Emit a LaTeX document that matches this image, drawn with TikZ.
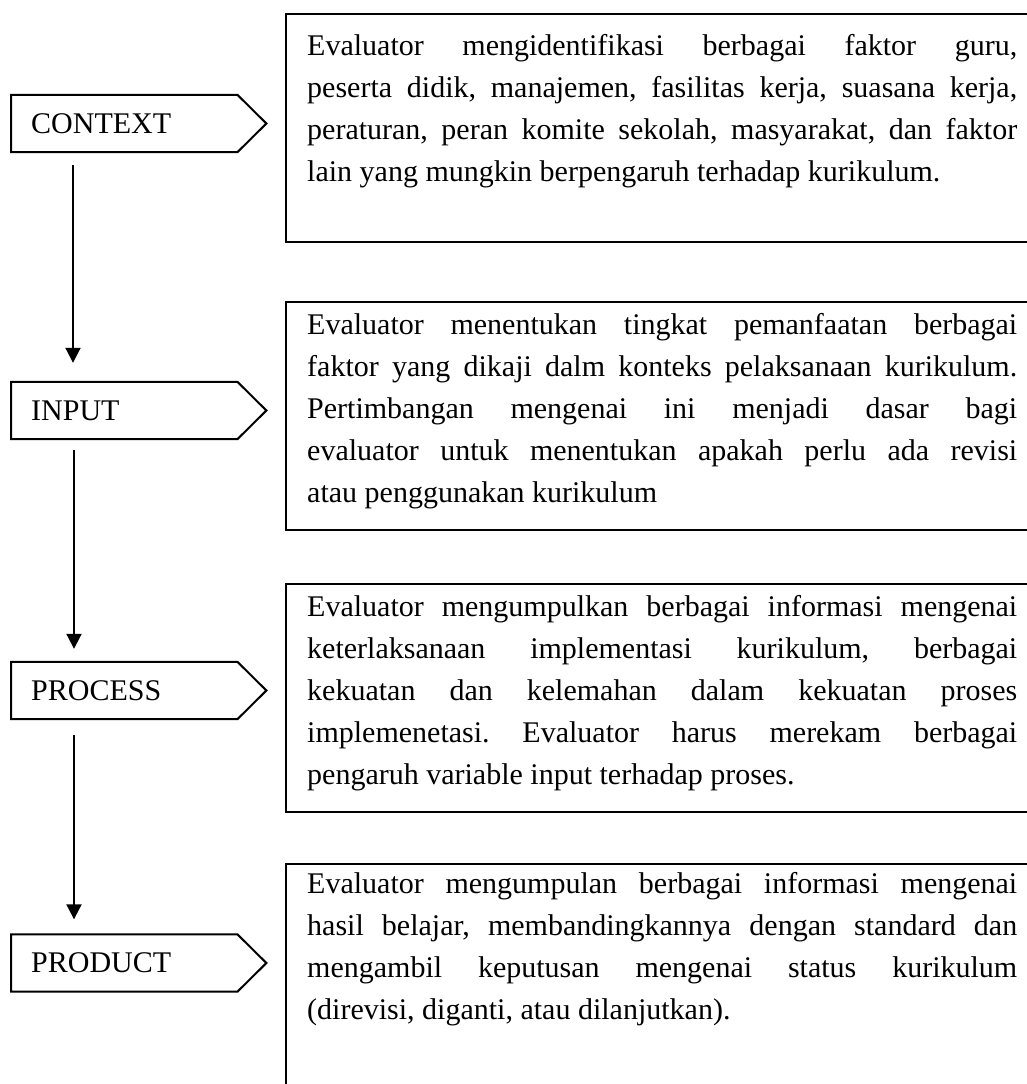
\documentclass[tikz,border=0pt]{standalone}
\usepackage{fontspec}
\setmainfont{Liberation Serif}
\usetikzlibrary{arrows.meta,calc}
\newcommand{\bodyset}{\fontsize{30}{42}\selectfont\frenchspacing\tolerance=10000\hbadness=10000\hyphenpenalty=10000\exhyphenpenalty=10000}
\begin{document}
\begin{tikzpicture}[x=1pt,y=-1pt,
  stage/.style={minimum width=226pt, minimum height=57pt, text width=186pt, inner xsep=20pt, inner ysep=0pt, align=left, anchor=west, font=\fontsize{30}{36}\selectfont},
  shp/.style={draw, line width=2pt},
  box/.style={draw, line width=2.4pt, minimum width=760pt, inner sep=0pt, anchor=north west},
  body/.style={anchor=base west, inner sep=0pt},
  arr/.style={line width=2pt, -{Triangle[length=15pt,width=15pt]}}]
\useasboundingbox (0,0) rectangle (1027,1084);
\clip (0,0) rectangle (1027,1084);

% stage labels
\node[stage] (c) at (11,123.5) {CONTEXT};
\node[stage] (i) at (11,410.5) {INPUT};
\node[stage] (p) at (11,690.5) {PROCESS};
\node[stage] (d) at (11,963) {PRODUCT};
\foreach \n in {c,i,p,d}{
  \draw[shp] (\n.north west) -- (\n.north east) -- ($(\n.east)+(29,0)$) -- (\n.south east) -- (\n.south west) -- cycle;
}

% connectors
\draw[arr] ($(c.south west)+(62,13)$) -- ($(i.north west)+(62,-19)$);
\draw[arr] ($(i.south west)+(63,11)$) -- ($(p.north west)+(63,-13)$);
\draw[arr] ($(p.south west)+(63,16)$) -- ($(d.north west)+(63,-15)$);

% description boxes
\node[box, minimum height=228pt] (b1) at (285,13) {};
\node[box, minimum height=228pt] (b2) at (285,301) {};
\node[box, minimum height=228pt] (b3) at (285,583) {};
\node[box, minimum height=240pt] (b4) at (285,863) {};

\node[body] (t1) at (307,55) {\parbox[t]{710pt}{\bodyset
Evaluator mengidentifikasi berbagai faktor guru,\linebreak
peserta didik, manajemen, fasilitas kerja, suasana kerja,\linebreak
peraturan, peran komite sekolah, masyarakat, dan faktor\linebreak
lain yang mungkin berpengaruh terhadap kurikulum.}};

\node[body] (t2) at (307,334) {\parbox[t]{710pt}{\bodyset
Evaluator menentukan tingkat pemanfaatan berbagai\linebreak
faktor yang dikaji dalm konteks pelaksanaan kurikulum.\linebreak
Pertimbangan mengenai ini menjadi dasar bagi\linebreak
evaluator untuk menentukan apakah perlu ada revisi\linebreak
atau penggunakan kurikulum}};

\node[body] (t3) at (307,616) {\parbox[t]{710pt}{\bodyset
Evaluator mengumpulkan berbagai informasi mengenai\linebreak
keterlaksanaan implementasi kurikulum, berbagai\linebreak
kekuatan dan kelemahan dalam kekuatan proses\linebreak
implemenetasi. Evaluator harus merekam berbagai\linebreak
pengaruh variable input terhadap proses.}};

\node[body] (t4) at (307,893) {\parbox[t]{710pt}{\bodyset
Evaluator mengumpulan berbagai informasi mengenai\linebreak
hasil belajar, membandingkannya dengan standard dan\linebreak
mengambil keputusan mengenai status kurikulum\linebreak
(direvisi, diganti, atau dilanjutkan).}};
\end{tikzpicture}
\end{document}
